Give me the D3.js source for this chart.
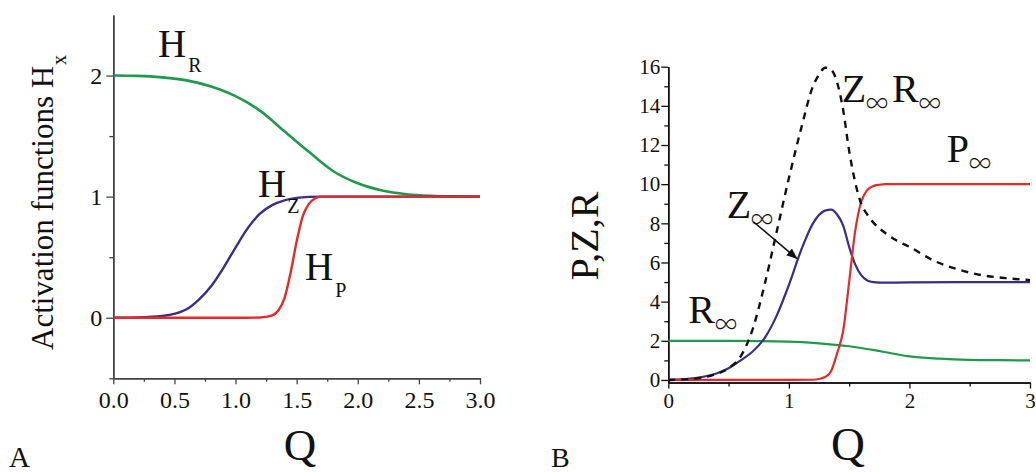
<!DOCTYPE html>
<html>
<head>
<meta charset="utf-8">
<script src="https://cdn.jsdelivr.net/npm/d3@7"></script>
<style>
  html, body { margin: 0; padding: 0; background: #fff; }
  svg { display: block; }
  text { font-family: "Liberation Serif", "Times New Roman", serif; fill: #111; }
  tspan.inf { font-family: "Noto Sans CJK JP", "DejaVu Serif", serif; font-weight: 300; }
</style>
</head>
<body>
<script>
// ---------- Panel A data (activation functions) ----------
const qHR = [0, 0.2, 0.4, 0.6, 0.8, 1.0, 1.2, 1.4, 1.6, 1.8, 2.0, 2.2, 2.4, 2.6, 2.8, 3.0];
const hR  = [2.0, 1.997, 1.985, 1.96, 1.91, 1.83, 1.71, 1.54, 1.37, 1.21, 1.11, 1.05, 1.02, 1.007, 1.002, 1.0];
const qHZ = [0, 0.2, 0.4, 0.6, 0.7, 0.8, 0.9, 1.0, 1.1, 1.2, 1.3, 1.4, 1.5, 1.6, 1.7, 2.0, 3.0];
const hZ  = [0, 0.003, 0.015, 0.07, 0.15, 0.26, 0.41, 0.58, 0.74, 0.86, 0.93, 0.97, 0.99, 0.998, 1.0, 1.0, 1.0];
const qHP = [0, 0.5, 1.0, 1.2, 1.3, 1.35, 1.4, 1.45, 1.5, 1.55, 1.6, 1.65, 1.7, 1.8, 2.0, 3.0];
const hP  = [0, 0, 0, 0.002, 0.02, 0.06, 0.16, 0.37, 0.63, 0.84, 0.94, 0.985, 1.0, 1.0, 1.0, 1.0];
const ticksAx = [0, 0.5, 1.0, 1.5, 2.0, 2.5, 3.0];
const ticksAy = [0, 1, 2];

// ---------- Panel B data (steady states) ----------
const qRinf = [0, 0.5, 1.0, 1.25, 1.5, 1.75, 2.0, 2.25, 2.5, 2.75, 3.0];
const rInf  = [2.0, 2.0, 1.96, 1.87, 1.72, 1.48, 1.2, 1.09, 1.03, 1.01, 1.0];
const qZinf = [0, 0.2, 0.4, 0.5, 0.6, 0.7, 0.8, 0.9, 1.0, 1.1, 1.2, 1.3, 1.35, 1.4, 1.45, 1.5, 1.55, 1.6, 1.65, 1.7, 1.8, 2.0, 2.5, 3.0];
const zInf  = [0, 0.08, 0.33, 0.6, 1.0, 1.45, 2.15, 3.3, 4.85, 6.6, 8.0, 8.65, 8.7, 8.45, 7.9, 6.8, 5.9, 5.35, 5.08, 5.0, 4.97, 4.98, 5.0, 5.0];
const qPinf = [0, 0.5, 1.0, 1.2, 1.25, 1.3, 1.35, 1.4, 1.45, 1.5, 1.55, 1.6, 1.65, 1.7, 1.75, 1.8, 2.0, 3.0];
const pInf  = [0, 0, 0, 0.01, 0.05, 0.15, 0.45, 1.36, 2.5, 5.0, 7.6, 9.1, 9.7, 9.9, 9.97, 10, 10, 10];
const qZR   = [0, 0.2, 0.375, 0.5, 0.6, 0.7, 0.8, 0.9, 1.0, 1.1, 1.2, 1.25, 1.3, 1.35, 1.4, 1.45, 1.5, 1.55, 1.6, 1.65, 1.7, 1.8, 1.9, 2.0, 2.2, 2.4, 2.6, 2.8, 3.0];
const zrInf = [0, 0.06, 0.26, 0.6, 1.2, 2.6, 4.9, 7.6, 10.3, 12.8, 15.0, 15.6, 15.95, 15.85, 15.2, 13.8, 11.7, 10.1, 9.0, 8.45, 8.05, 7.5, 7.1, 6.8, 6.1, 5.65, 5.35, 5.2, 5.1];
const ticksBx = [0, 1, 2, 3];
const ticksBy = [0, 2, 4, 6, 8, 10, 12, 14, 16];

// ---------- styling ----------
const GREEN = "#1f9a4c", PURPLE = "#3b2c88", RED = "#e62a2a";
const SERIF = '"Liberation Serif", "Times New Roman", serif';

const svg = d3.select("body").append("svg").attr("width", 1036).attr("height", 472);

function zip(xs, ys) { return xs.map((x, i) => [x, ys[i]]); }

function styleAxis(g, color, fs) {
  g.select(".domain").attr("stroke", color).attr("stroke-width", 1.5);
  g.selectAll(".tick line").attr("stroke", color).attr("stroke-width", 1.3);
  g.selectAll(".tick text").attr("fill", "#111").attr("font-family", SERIF).attr("font-size", fs);
}

// ================= Panel A =================
const xA = d3.scaleLinear().domain([0, 3]).range([113.3, 480]);
const yA = d3.scaleLinear().domain([-0.5, 2.5]).range([378.3, 15]);
const gA = svg.append("g");

gA.append("g").attr("transform", `translate(0,${yA(-0.5)})`)
  .call(d3.axisBottom(xA).tickValues(d3.range(0.25, 3, 0.5)).tickSize(3.5).tickSizeOuter(0).tickFormat(""))
  .call(g => styleAxis(g, "#444", 0));
gA.append("g").attr("transform", `translate(${xA(0)},0)`)
  .call(d3.axisLeft(yA).tickValues([-0.5, 0.5, 1.5]).tickSize(4).tickSizeOuter(0).tickFormat(""))
  .call(g => styleAxis(g, "#444", 0));
gA.append("g").attr("transform", `translate(0,${yA(-0.5)})`)
  .call(d3.axisBottom(xA).tickValues(ticksAx).tickSize(6).tickSizeOuter(0).tickPadding(7).tickFormat(d3.format(".1f")))
  .call(g => styleAxis(g, "#444", 24));
gA.append("g").attr("transform", `translate(${xA(0)},0)`)
  .call(d3.axisLeft(yA).tickValues(ticksAy).tickSize(7).tickSizeOuter(0).tickPadding(4).tickFormat(d3.format("d")))
  .call(g => styleAxis(g, "#444", 24));

const lineA = d3.line().x(d => xA(d[0])).y(d => yA(d[1])).curve(d3.curveMonotoneX);
gA.append("path").attr("d", lineA(zip(qHR, hR))).attr("fill", "none").attr("stroke", GREEN).attr("stroke-width", 2.6);
gA.append("path").attr("d", lineA(zip(qHZ, hZ))).attr("fill", "none").attr("stroke", PURPLE).attr("stroke-width", 2.4);
gA.append("path").attr("d", lineA(zip(qHP, hP))).attr("fill", "none").attr("stroke", RED).attr("stroke-width", 2.4);

function subLabel(g, x, y, main, sub, fsMain, fsSub, dx, dy) {
  const t = g.append("text").attr("x", x).attr("y", y).attr("font-size", fsMain);
  t.append("tspan").text(main);
  t.append("tspan").attr("font-size", fsSub).attr("dx", dx).attr("dy", dy).text(sub);
  return t;
}
subLabel(gA, xA(0.366), yA(2.156), "H", "R", 39, 20, 2, 15);
subLabel(gA, xA(1.184), yA(1.0), "H", "Z", 39, 20, 1, 16);
subLabel(gA, xA(1.569), yA(0.312), "H", "P", 39, 20, 2, 17);

const ylA = gA.append("text").attr("transform", `translate(53,350) rotate(-90)`).attr("font-size", 31);
ylA.append("tspan").text("Activation functions H");
ylA.append("tspan").attr("font-size", 20).attr("dx", 1).attr("dy", 13).text("x");
gA.append("text").attr("x", 300).attr("y", 460).attr("text-anchor", "middle").attr("font-size", 45).text("Q");
gA.append("text").attr("x", 9).attr("y", 467).attr("font-size", 29).text("A");

// ================= Panel B =================
const xB = d3.scaleLinear().domain([0, 3]).range([668.3, 1030]);
const yB = d3.scaleLinear().domain([-0.13, 16]).range([382.5, 66.7]);
const gB = svg.append("g");

gB.append("g").attr("transform", `translate(0,${yB(-0.13)})`)
  .call(d3.axisBottom(xB).tickValues([0.5, 1.5, 2.5]).tickSize(4).tickSizeOuter(0).tickFormat(""))
  .call(g => styleAxis(g, "#111", 0));
gB.append("g").attr("transform", `translate(${xB(0)},0)`)
  .call(d3.axisLeft(yB).tickValues(d3.range(1, 16, 2)).tickSize(4).tickSizeOuter(0).tickFormat(""))
  .call(g => styleAxis(g, "#111", 0));
gB.append("g").attr("transform", `translate(0,${yB(-0.13)})`)
  .call(d3.axisBottom(xB).tickValues(ticksBx).tickSize(6).tickSizeOuter(0).tickPadding(5).tickFormat(d3.format("d")))
  .call(g => styleAxis(g, "#111", 21));
gB.append("g").attr("transform", `translate(${xB(0)},0)`)
  .call(d3.axisLeft(yB).tickValues(ticksBy).tickSize(7).tickSizeOuter(0).tickPadding(1).tickFormat(d3.format("d")))
  .call(g => styleAxis(g, "#111", 21));

const lineB = d3.line().x(d => xB(d[0])).y(d => yB(d[1])).curve(d3.curveMonotoneX);
gB.append("path").attr("d", lineB(zip(qRinf, rInf))).attr("fill", "none").attr("stroke", GREEN).attr("stroke-width", 2.2);
gB.append("path").attr("d", lineB(zip(qZinf, zInf))).attr("fill", "none").attr("stroke", PURPLE).attr("stroke-width", 2.2);
gB.append("path").attr("d", lineB(zip(qPinf, pInf))).attr("fill", "none").attr("stroke", RED).attr("stroke-width", 2.2);
gB.append("path").attr("d", lineB(zip(qZR, zrInf))).attr("fill", "none").attr("stroke", "#111").attr("stroke-width", 2.4).attr("stroke-dasharray", "7,6");

// letters each followed by a low, wide infinity sign, all in one text element
function infLabel(g, x, y, letters) {
  const probe = g.append("text").attr("font-size", 40);
  const t = g.append("text").attr("y", y).attr("font-size", 40);
  let cx = x;
  letters.forEach(l => {
    probe.text(l);
    const w = probe.node().getComputedTextLength();
    t.append("tspan").attr("x", cx).attr("y", y).text(l);
    cx += w;
    t.append("tspan").attr("class", "inf").attr("x", cx).attr("y", y + 11).attr("font-size", 26)
      .attr("textLength", 22).attr("lengthAdjust", "spacingAndGlyphs").text("∞");
    cx += 26;
  });
  probe.remove();
}
infLabel(gB, xB(1.438), yB(14.22), ["Z", "R"]);
infLabel(gB, xB(2.309), yB(11.15), ["P"]);
infLabel(gB, xB(0.484), yB(8.26), ["Z"]);
infLabel(gB, xB(0.166), yB(2.91), ["R"]);

const defs = svg.append("defs");
defs.append("marker").attr("id", "arr").attr("viewBox", "0 0 10 10").attr("refX", 9).attr("refY", 5)
  .attr("markerWidth", 7).attr("markerHeight", 7).attr("orient", "auto")
  .append("path").attr("d", "M0,1 L10,5 L0,9 Z").attr("fill", "#111");
gB.append("line").attr("x1", xB(0.706)).attr("y1", yB(8.08)).attr("x2", xB(1.065)).attr("y2", yB(6.21))
  .attr("stroke", "#111").attr("stroke-width", 1.6).attr("marker-end", "url(#arr)");

gB.append("text").attr("transform", `translate(598,236) rotate(-90)`).attr("text-anchor", "middle").attr("font-size", 40).text("P,Z,R");
gB.append("text").attr("x", 848).attr("y", 460).attr("text-anchor", "middle").attr("font-size", 47).text("Q");
gB.append("text").attr("x", 551).attr("y", 467).attr("font-size", 28).text("B");
</script>
</body>
</html>
